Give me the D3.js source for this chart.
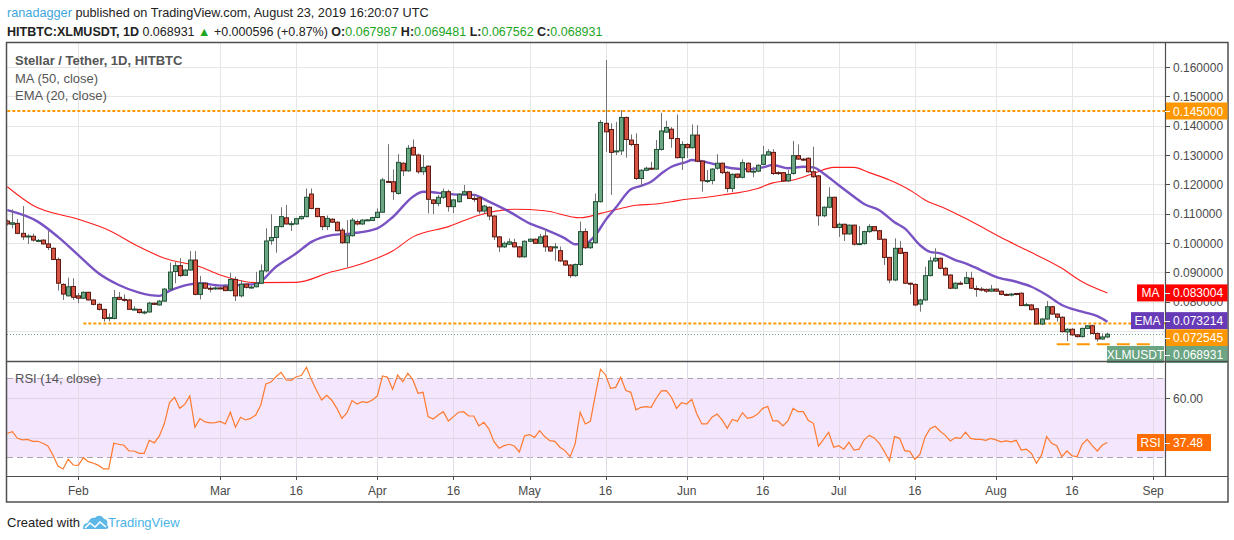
<!DOCTYPE html>
<html>
<head>
<meta charset="utf-8">
<script src="https://cdn.jsdelivr.net/npm/d3@7"></script>
<style>
  body { margin: 0; background: #fff; }
  svg { display: block; font-family: "Liberation Sans", Arial, sans-serif; }
</style>
</head>
<body>
<div id="chart"></div>
<script>
// HITBTC:XLMUSDT daily candles, first one is 2019-01-18
const startDay = "2019-01-18";

const opens = [
  0.1075,0.1064,0.1067,0.1033,0.1021,0.1023,0.1007,0.1010,0.0997,0.0982,
  0.0944,0.0859,0.0820,0.0852,0.0820,0.0812,0.0832,0.0806,0.0791,0.0774,
  0.0744,0.0743,0.0815,0.0808,0.0806,0.0774,0.0774,0.0764,0.0765,0.0795,
  0.0789,0.0802,0.0843,0.0903,0.0923,0.0890,0.0908,0.0942,0.0825,0.0863,
  0.0846,0.0845,0.0847,0.0851,0.0838,0.0876,0.0820,0.0860,0.0849,0.0851,
  0.0863,0.0905,0.1008,0.1019,0.1056,0.1086,0.1065,0.1065,0.1083,0.1090,
  0.1167,0.1118,0.1090,0.1056,0.1081,0.1071,0.1044,0.1001,0.1025,0.1073,
  0.1065,0.1078,0.1077,0.1087,0.1105,0.1210,0.1209,0.1169,0.1272,0.1246,
  0.1326,0.1300,0.1243,0.1262,0.1147,0.1135,0.1156,0.1175,0.1124,0.1141,
  0.1166,0.1175,0.1152,0.1154,0.1109,0.1122,0.1092,0.1021,0.0987,0.0996,
  0.1001,0.0987,0.0953,0.1006,0.1013,0.0999,0.1024,0.0987,0.0985,0.0974,
  0.0939,0.0925,0.0889,0.0927,0.1039,0.0984,0.1001,0.1141,0.1408,0.1387,
  0.1311,0.1314,0.1428,0.1351,0.1336,0.1220,0.1248,0.1255,0.1252,0.1319,
  0.1378,0.1388,0.1356,0.1291,0.1336,0.1325,0.1368,0.1279,0.1212,0.1213,
  0.1255,0.1272,0.1241,0.1186,0.1235,0.1224,0.1272,0.1243,0.1245,0.1268,
  0.1300,0.1309,0.1240,0.1240,0.1212,0.1237,0.1298,0.1286,0.1289,0.1243,
  0.1229,0.1093,0.1122,0.1156,0.1053,0.1064,0.1031,0.1061,0.0996,0.0998,
  0.1039,0.1056,0.1042,0.1013,0.0951,0.0874,0.0982,0.0968,0.0863,0.0859,
  0.0792,0.0806,0.0889,0.0939,0.0948,0.0914,0.0891,0.0846,0.0863,0.0862,
  0.0880,0.0845,0.0843,0.0842,0.0836,0.0843,0.0836,0.0825,0.0824,0.0828,
  0.0829,0.0788,0.0789,0.0776,0.0724,0.0741,0.0783,0.0758,0.0747,0.0697,
  0.0706,0.0687,0.0681,0.0709,0.0718,0.0692,0.0673,0.067987
];
const highs = [
  0.1080,0.1115,0.1082,0.1126,0.1030,0.1032,0.1014,0.1012,0.1041,0.0985,
  0.0951,0.0863,0.0882,0.0880,0.0830,0.0835,0.0834,0.0808,0.0795,0.0776,
  0.0760,0.0840,0.0833,0.0825,0.0810,0.0785,0.0776,0.0770,0.0800,0.0797,
  0.0806,0.0846,0.0933,0.0936,0.0948,0.0912,0.0973,0.0973,0.0888,0.0866,
  0.0853,0.0852,0.0850,0.0858,0.0899,0.0885,0.0874,0.0863,0.0856,0.0902,
  0.0927,0.1050,0.1098,0.1058,0.1122,0.1130,0.1075,0.1086,0.1094,0.1186,
  0.1186,0.1120,0.1092,0.1094,0.1085,0.1073,0.1051,0.1078,0.1085,0.1080,
  0.1082,0.1082,0.1090,0.1118,0.1222,0.1337,0.1251,0.1303,0.1275,0.1334,
  0.1353,0.1305,0.1300,0.1264,0.1150,0.1164,0.1186,0.1182,0.1150,0.1170,
  0.1198,0.1178,0.1165,0.1160,0.1130,0.1125,0.1095,0.1024,0.1005,0.1016,
  0.1015,0.0990,0.1009,0.1016,0.1016,0.1031,0.1048,0.0990,0.1000,0.0988,
  0.0942,0.0928,0.0930,0.1073,0.1050,0.1005,0.1169,0.1419,0.1624,0.1408,
  0.1413,0.1453,0.1431,0.1370,0.1374,0.1252,0.1260,0.1277,0.1351,0.1444,
  0.1417,0.1395,0.1438,0.1347,0.1340,0.1404,0.1402,0.1282,0.1249,0.1255,
  0.1303,0.1275,0.1245,0.1238,0.1237,0.1285,0.1275,0.1260,0.1268,0.1331,
  0.1320,0.1320,0.1245,0.1242,0.1249,0.1348,0.1336,0.1290,0.1292,0.1328,
  0.1232,0.1125,0.1190,0.1158,0.1070,0.1066,0.1063,0.1063,0.1058,0.1042,
  0.1064,0.1058,0.1045,0.1015,0.0953,0.1016,0.1007,0.0970,0.0865,0.0862,
  0.0810,0.0919,0.0953,0.0982,0.0950,0.0918,0.0893,0.0866,0.0870,0.0902,
  0.0902,0.0855,0.0850,0.0845,0.0857,0.0845,0.0838,0.0828,0.0830,0.0830,
  0.0832,0.0796,0.0792,0.0778,0.0745,0.0802,0.0786,0.0760,0.0750,0.0710,
  0.0710,0.0690,0.0712,0.0720,0.0722,0.0695,0.0692,0.069481
];
const lows = [
  0.1060,0.1050,0.1030,0.1010,0.0997,0.1005,0.1003,0.0995,0.0976,0.0942,
  0.0838,0.0806,0.0818,0.0806,0.0795,0.0810,0.0804,0.0788,0.0770,0.0732,
  0.0733,0.0740,0.0805,0.0800,0.0772,0.0770,0.0760,0.0757,0.0763,0.0789,
  0.0787,0.0800,0.0840,0.0863,0.0885,0.0888,0.0905,0.0822,0.0808,0.0844,
  0.0832,0.0840,0.0843,0.0836,0.0835,0.0802,0.0815,0.0845,0.0845,0.0849,
  0.0860,0.0900,0.0994,0.0967,0.1053,0.1063,0.1041,0.1062,0.1080,0.1088,
  0.1115,0.1088,0.1044,0.1044,0.1068,0.1040,0.0997,0.0917,0.1022,0.1060,
  0.1062,0.1076,0.1075,0.1085,0.1103,0.1205,0.1147,0.1165,0.1228,0.1243,
  0.1298,0.1236,0.1232,0.1101,0.1099,0.1125,0.1150,0.1107,0.1102,0.1138,
  0.1163,0.1150,0.1140,0.1100,0.1100,0.1078,0.1010,0.0969,0.0983,0.0993,
  0.0985,0.0950,0.0950,0.1003,0.0997,0.0997,0.0970,0.0970,0.0940,0.0935,
  0.0922,0.0881,0.0885,0.0922,0.0980,0.0980,0.0998,0.1138,0.1311,0.1164,
  0.1300,0.1300,0.1291,0.1330,0.1215,0.1192,0.1245,0.1250,0.1250,0.1315,
  0.1375,0.1325,0.1288,0.1249,0.1290,0.1322,0.1275,0.1175,0.1205,0.1200,
  0.1250,0.1235,0.1173,0.1173,0.1220,0.1220,0.1240,0.1224,0.1242,0.1265,
  0.1298,0.1232,0.1232,0.1208,0.1208,0.1233,0.1283,0.1280,0.1240,0.1222,
  0.1059,0.1088,0.1118,0.1050,0.1021,0.1007,0.1028,0.0991,0.0993,0.0995,
  0.1035,0.1040,0.1010,0.0925,0.0863,0.0870,0.0962,0.0860,0.0825,0.0785,
  0.0766,0.0803,0.0886,0.0935,0.0910,0.0888,0.0843,0.0843,0.0858,0.0860,
  0.0843,0.0817,0.0835,0.0830,0.0833,0.0833,0.0822,0.0820,0.0818,0.0822,
  0.0785,0.0785,0.0770,0.0722,0.0720,0.0738,0.0755,0.0732,0.0695,0.0666,
  0.0683,0.0678,0.0678,0.0706,0.0690,0.0664,0.0670,0.067562
];
const closes = [
  0.1065,0.1069,0.1033,0.1021,0.1024,0.1010,0.1009,0.0997,0.0985,0.0944,
  0.0863,0.0826,0.0851,0.0815,0.0812,0.0832,0.0806,0.0791,0.0774,0.0743,
  0.0746,0.0814,0.0808,0.0806,0.0774,0.0775,0.0763,0.0765,0.0795,0.0791,
  0.0802,0.0843,0.0901,0.0923,0.0889,0.0908,0.0942,0.0825,0.0863,0.0846,
  0.0845,0.0847,0.0846,0.0838,0.0876,0.0820,0.0860,0.0849,0.0850,0.0863,
  0.0905,0.1007,0.1019,0.1056,0.1090,0.1065,0.1066,0.1083,0.1090,0.1156,
  0.1118,0.1090,0.1056,0.1084,0.1071,0.1042,0.1001,0.1025,0.1078,0.1065,
  0.1078,0.1079,0.1087,0.1105,0.1215,0.1209,0.1175,0.1275,0.1246,0.1323,
  0.1300,0.1243,0.1258,0.1149,0.1135,0.1156,0.1175,0.1124,0.1147,0.1166,
  0.1175,0.1152,0.1150,0.1109,0.1126,0.1092,0.1021,0.0987,0.0999,0.1004,
  0.0987,0.0953,0.1006,0.1013,0.0999,0.1021,0.0987,0.0973,0.0987,0.0939,
  0.0925,0.0889,0.0927,0.1039,0.0984,0.1001,0.1141,0.1411,0.1379,0.1309,
  0.1314,0.1428,0.1353,0.1336,0.1220,0.1248,0.1255,0.1253,0.1319,0.1382,
  0.1394,0.1356,0.1291,0.1336,0.1325,0.1368,0.1279,0.1212,0.1213,0.1252,
  0.1272,0.1240,0.1186,0.1234,0.1224,0.1274,0.1243,0.1245,0.1265,0.1300,
  0.1311,0.1237,0.1237,0.1212,0.1234,0.1298,0.1286,0.1285,0.1243,0.1226,
  0.1093,0.1122,0.1156,0.1053,0.1064,0.1031,0.1061,0.0996,0.0998,0.1039,
  0.1056,0.1042,0.1013,0.0951,0.0874,0.0982,0.0965,0.0863,0.0862,0.0789,
  0.0806,0.0889,0.0939,0.0948,0.0914,0.0891,0.0846,0.0863,0.0862,0.0882,
  0.0846,0.0843,0.0842,0.0836,0.0843,0.0836,0.0825,0.0824,0.0826,0.0825,
  0.0787,0.0790,0.0773,0.0724,0.0741,0.0783,0.0758,0.0747,0.0698,0.0706,
  0.0687,0.0681,0.0709,0.0718,0.0692,0.0673,0.0680,0.068931
];

// RSI(14) read per day
const rsiValues = [
  42.2,43.0,39.6,38.8,39.1,38.1,38.1,37.1,35.7,31.2,
  25.6,24.1,29.0,26.1,25.9,29.8,27.8,27.0,25.9,24.1,
  24.1,37.1,36.6,36.1,33.2,33.2,32.0,32.0,38.6,37.3,
  40.8,47.2,57.7,60.4,54.8,56.8,61.1,45.2,49.6,47.9,
  47.4,47.6,48.2,46.9,52.8,45.2,50.3,48.9,49.7,51.4,
  56.5,67.1,68.1,70.8,73.0,69.2,69.0,70.8,71.4,75.6,
  69.2,63.8,59.0,61.4,58.9,54.8,49.7,52.6,58.7,57.0,
  58.2,57.7,59.0,61.1,71.2,70.5,64.4,71.7,68.3,72.5,
  69.2,62.4,62.9,50.6,49.4,51.4,53.1,48.4,50.6,52.8,
  53.1,50.9,50.9,45.9,47.7,44.3,37.9,34.6,35.9,36.6,
  35.7,32.7,40.8,41.5,40.1,43.5,40.5,38.4,38.1,35.1,
  33.4,30.3,36.8,52.8,46.9,48.2,61.6,74.6,71.7,64.9,
  65.4,70.5,63.8,62.9,54.0,55.3,55.7,55.3,59.9,63.6,
  63.8,60.4,54.8,57.7,57.0,59.4,51.9,46.9,46.9,50.3,
  51.9,48.9,44.7,49.2,48.2,52.6,49.7,50.3,51.9,54.8,
  55.7,48.4,48.4,45.9,48.6,54.8,53.1,53.1,48.6,47.2,
  35.7,39.1,42.7,35.1,35.9,34.1,37.6,33.7,34.1,38.8,
  41.1,39.8,37.1,32.9,28.1,40.5,39.6,33.4,33.0,29.0,
  31.4,40.1,44.5,45.7,43.2,41.1,38.3,40.0,39.6,42.7,
  39.6,39.1,39.1,38.6,39.6,38.8,37.8,38.3,37.8,38.6,
  33.7,34.1,32.0,27.0,31.2,40.5,37.1,35.9,30.3,33.2,
  30.8,30.3,36.6,39.1,35.9,33.2,36.2,37.48
];

// MA(50) and EMA(20) (day number counted from startDay, 0 = first candle)
const maDays = [0,5,14,20,26,31,38,42,49,57,64,68,72,76,80,87,93,100,106,113,117,121,124,128,131,134,138,141,144,148,151,155,159,163,167,170,174,178,181,185,190,197,201,208,212,217];
const maValues = [0.1192,0.1129,0.1081,0.1044,0.0987,0.0948,0.0919,0.0891,0.0865,0.0866,0.0902,0.0919,0.0942,0.0973,0.1021,0.1056,0.1095,0.1115,0.1110,0.1086,0.1101,0.1118,0.1129,0.1133,0.1141,0.1149,0.1156,0.1164,0.1171,0.1186,0.1205,0.1215,0.1237,0.1258,0.1258,0.1240,0.1215,0.1181,0.1147,0.1118,0.1075,0.1010,0.0976,0.0914,0.0868,0.0830];
const emaDays = [0,6,10,14,18,22,26,30,32,36,38,42,49,53,57,60,64,68,73,76,80,82,88,92,95,99,103,106,110,112,114,116,118,120,123,125,127,129,131,134,135,138,141,143,146,149,151,154,157,159,161,164,167,169,172,175,177,180,182,184,187,189,192,195,199,202,205,208,212,215,217];
const emaValues = [0.1112,0.1073,0.1021,0.0959,0.0897,0.0857,0.0831,0.0820,0.0837,0.0859,0.0863,0.0855,0.0860,0.0919,0.0965,0.1004,0.1027,0.1033,0.1050,0.1088,0.1158,0.1175,0.1166,0.1164,0.1141,0.1107,0.1067,0.1047,0.1016,0.0996,0.0998,0.1027,0.1078,0.1120,0.1183,0.1195,0.1209,0.1237,0.1260,0.1277,0.1283,0.1275,0.1262,0.1255,0.1252,0.1258,0.1266,0.1255,0.1260,0.1258,0.1237,0.1197,0.1158,0.1133,0.1112,0.1071,0.1050,0.0993,0.0970,0.0965,0.0942,0.0931,0.0908,0.0885,0.0868,0.0851,0.0823,0.0789,0.0766,0.0751,0.0732];

// horizontal lines drawn by the author
const levelPrices = [0.145, 0.072545];
const levelStarts = ["2019-01-18", "2019-02-02"];
const supportPrice = 0.0655;
const supportRange = ["2019-08-13", "2019-09-01"];

const priceTicks = [0.07,0.08,0.09,0.10,0.11,0.12,0.13,0.14,0.15,0.16];
const tickDates = ["2019-02-01","2019-03-01","2019-03-16","2019-04-01","2019-04-16","2019-05-01","2019-05-16","2019-06-01","2019-06-16","2019-07-01","2019-07-16","2019-08-01","2019-08-16","2019-09-01"];
const tickLabels = ["Feb","Mar","16","Apr","16","May","16","Jun","16","Jul","16","Aug","16","Sep"];

const lastMA = 0.083004, lastEMA = 0.073214, lastClose = 0.068931, lastRSI = 37.48;

// ---------------------------------------------------------------
const W = 1234, H = 540;
const chartL = 7, chartR = 1165, chartT = 43, paneSplit = 361.5, chartB = 476, frameR = 1228, frameB = 502;

const parse = d3.utcParse("%Y-%m-%d");
const start = parse(startDay);
const candles = opens.map((o, i) => ({
  date: d3.utcDay.offset(start, i), open: o, high: highs[i], low: lows[i], close: closes[i]
}));

const x = d3.scaleUtc()
  .domain([start, parse("2019-09-01")])
  .range([7.3, 1153.1]);
const y = d3.scaleLinear().domain([0.06, 0.16]).range([360.4, 67]);
const ry = d3.scaleLinear().domain([30, 70]).range([457.3, 378.3]);

const svg = d3.select("#chart").append("svg")
  .attr("width", W).attr("height", H);
svg.append("rect").attr("width", W).attr("height", H).attr("fill", "#fff");

const defs = svg.append("defs");
defs.append("clipPath").attr("id", "mainClip").append("rect")
  .attr("x", chartL).attr("y", chartT).attr("width", chartR - chartL).attr("height", paneSplit - chartT);
defs.append("clipPath").attr("id", "rsiClip").append("rect")
  .attr("x", chartL).attr("y", paneSplit).attr("width", chartR - chartL).attr("height", chartB - paneSplit);

const crisp = v => Math.round(v) + 0.5;

//grid
const grid = svg.append("g");
grid.selectAll(".vg").data(tickDates).enter().append("line")
  .attr("x1", d => crisp(x(parse(d)))).attr("x2", d => crisp(x(parse(d))))
  .attr("y1", chartT).attr("y2", chartB)
  .attr("stroke", "#e6e6e6");
grid.selectAll(".hg").data(priceTicks).enter().append("line")
  .attr("x1", chartL).attr("x2", chartR)
  .attr("y1", d => crisp(y(d))).attr("y2", d => crisp(y(d)))
  .attr("stroke", "#e6e6e6");

//main pane
const main = svg.append("g").attr("clip-path", "url(#mainClip)");

main.selectAll(".lvl").data(levelPrices).enter().append("line")
  .attr("x1", (d, i) => x(parse(levelStarts[i]))).attr("x2", chartR)
  .attr("y1", d => y(d)).attr("y2", d => y(d))
  .attr("stroke", "#ff9800").attr("stroke-width", 2)
  .attr("stroke-dasharray", "3,2");

main.append("line")
  .attr("x1", x(parse(supportRange[0]))).attr("x2", x(parse(supportRange[1])))
  .attr("y1", y(supportPrice)).attr("y2", y(supportPrice))
  .attr("stroke", "#ff9800").attr("stroke-width", 2)
  .attr("stroke-dasharray", "13,7");

main.append("line")
  .attr("x1", chartL).attr("x2", chartR)
  .attr("y1", crisp(y(lastClose))).attr("y2", crisp(y(lastClose)))
  .attr("stroke", "#6ba583").attr("stroke-dasharray", "1,2");

const maLine = d3.line()
  .x(d => x(d3.utcDay.offset(start, d[0])))
  .y(d => y(d[1]))
  .curve(d3.curveMonotoneX);

main.append("path")
  .datum(maDays.map((d, i) => [d, maValues[i]]))
  .attr("d", maLine)
  .attr("fill", "none").attr("stroke", "#ff1f1f").attr("stroke-width", 1.1);

main.append("path")
  .datum(emaDays.map((d, i) => [d, emaValues[i]]))
  .attr("d", maLine)
  .attr("fill", "none").attr("stroke", "#6a3fbd").attr("stroke-width", 2.4)
  .attr("stroke-opacity", 0.9);

// wicks then bodies
main.selectAll(".wick").data(candles).enter().append("line")
  .attr("x1", d => crisp(x(d.date))).attr("x2", d => crisp(x(d.date)))
  .attr("y1", d => y(d.high)).attr("y2", d => y(d.low))
  .attr("stroke", "#737375");

main.selectAll(".body").data(candles).enter().append("rect")
  .attr("x", d => Math.round(x(d.date)) - 1.5)
  .attr("width", 4)
  .attr("y", d => y(Math.max(d.open, d.close)))
  .attr("height", d => Math.max(1, Math.abs(y(d.open) - y(d.close))))
  .attr("fill", d => d.close >= d.open ? "#6ba583" : "#d75442")
  .attr("stroke", d => d.close >= d.open ? "#225437" : "#5b1a13")
  .attr("stroke-width", 1);

//rsi pane
const rsi = svg.append("g").attr("clip-path", "url(#rsiClip)");
rsi.append("rect")
  .attr("x", chartL).attr("width", chartR - chartL)
  .attr("y", ry(70)).attr("height", ry(30) - ry(70))
  .attr("fill", "#f3e6fd");
rsi.selectAll(".rg").data([60, 40]).enter().append("line")
  .attr("x1", chartL).attr("x2", chartR)
  .attr("y1", d => crisp(ry(d))).attr("y2", d => crisp(ry(d)))
  .attr("stroke", "#ddd3e6");
rsi.selectAll(".rb").data([70, 30]).enter().append("line")
  .attr("x1", chartL).attr("x2", chartR)
  .attr("y1", d => crisp(ry(d))).attr("y2", d => crisp(ry(d)))
  .attr("stroke", "#a9a4ad").attr("stroke-dasharray", "6,4");
rsi.selectAll(".rv").data(tickDates).enter().append("line")
  .attr("x1", d => crisp(x(parse(d)))).attr("x2", d => crisp(x(parse(d))))
  .attr("y1", paneSplit).attr("y2", chartB)
  .attr("stroke", "#e0dbe6");
rsi.append("path")
  .datum(rsiValues)
  .attr("d", d3.line().x((d, i) => x(d3.utcDay.offset(start, i))).y(d => ry(d)))
  .attr("fill", "none").attr("stroke", "#ff7a2e").attr("stroke-width", 1.2);

//frame and separators
const ink = "#4f4f4f";
svg.append("rect")
  .attr("x", 6.5).attr("y", chartT - 0.5).attr("width", frameR - 6.5).attr("height", frameB - chartT + 0.5)
  .attr("fill", "none").attr("stroke", ink).attr("stroke-width", 1.5);
svg.append("line").attr("x1", 6.5).attr("x2", frameR).attr("y1", chartB + 0.5).attr("y2", chartB + 0.5)
  .attr("stroke", ink).attr("stroke-width", 1.2);
svg.append("line").attr("x1", chartR + 0.5).attr("x2", chartR + 0.5).attr("y1", chartT).attr("y2", chartB)
  .attr("stroke", ink).attr("stroke-width", 1.2);

//time axis
const tAxis = svg.append("g");
tAxis.selectAll(".tt").data(tickDates).enter().append("line")
  .attr("x1", d => crisp(x(parse(d)))).attr("x2", d => crisp(x(parse(d))))
  .attr("y1", chartB).attr("y2", chartB + 4)
  .attr("stroke", ink);
tAxis.selectAll(".tl").data(tickDates).enter().append("text")
  .attr("x", d => x(parse(d))).attr("y", 495)
  .attr("text-anchor", "middle")
  .attr("font-size", "12px").attr("fill", "#4a4a4a")
  .text((d, i) => tickLabels[i]);

//price axis
const fmt = d3.format(".6f");
const pAxis = svg.append("g");
pAxis.selectAll(".pt").data(priceTicks.filter(d => d >= 0.08)).enter().append("line")
  .attr("x1", chartR).attr("x2", chartR + 5)
  .attr("y1", d => crisp(y(d))).attr("y2", d => crisp(y(d)))
  .attr("stroke", ink);
pAxis.selectAll(".pl").data(priceTicks.filter(d => d >= 0.08)).enter().append("text")
  .attr("x", 1173).attr("y", d => y(d) + 4.5)
  .attr("font-size", "12px").attr("fill", "#4a4a4a")
  .text(d => fmt(d));
pAxis.append("line")
  .attr("x1", chartR).attr("x2", chartR + 5)
  .attr("y1", crisp(ry(60))).attr("y2", crisp(ry(60)))
  .attr("stroke", ink);
pAxis.append("text")
  .attr("x", 1173).attr("y", ry(60) + 4.5)
  .attr("font-size", "12px").attr("fill", "#4a4a4a")
  .text("60.00");

// value tags on the right edge
function tag(name, label, color, cy, nameWidth, valueWidth) {
  const g = svg.append("g");
  if (name) {
    g.append("rect").attr("x", chartR - nameWidth - 1).attr("y", cy - 8.5)
      .attr("width", nameWidth).attr("height", 17).attr("fill", color);
    g.append("text").attr("x", chartR - 1 - nameWidth / 2).attr("y", cy + 4.5)
      .attr("text-anchor", "middle").attr("font-size", "12px").attr("fill", "#fff")
      .text(name);
  }
  g.append("rect").attr("x", chartR + 1).attr("y", cy - 8.5)
    .attr("width", valueWidth || (frameR - chartR - 1.5)).attr("height", 17).attr("fill", color);
  g.append("line").attr("x1", chartR).attr("x2", chartR + 5).attr("y1", crisp(cy)).attr("y2", crisp(cy))
    .attr("stroke", "#fff");
  g.append("text").attr("x", 1173).attr("y", cy + 4.5)
    .attr("font-size", "12px").attr("fill", "#fff")
    .text(label);
}
tag(null, fmt(levelPrices[0]), "#ff9800", y(levelPrices[0]), 0);
tag("MA", fmt(lastMA), "#ff0000", y(lastMA), 27);
tag("EMA", fmt(lastEMA), "#673ab7", y(lastEMA) - 1, 33);
tag(null, fmt(levelPrices[1]), "#ff9800", 337.8, 0);
tag("XLMUSDT", fmt(lastClose), "#6ba583", 354.5, 57);
tag("RSI", lastRSI.toFixed(2), "#ff6d00", ry(lastRSI), 27, 45);

// pane separator drawn last so it sits over the bottom tag
svg.append("line").attr("x1", 6.5).attr("x2", frameR).attr("y1", paneSplit).attr("y2", paneSplit)
  .attr("stroke", ink).attr("stroke-width", 1.5);

//legends
const leg = svg.append("g").attr("font-size", "13px").attr("fill", "#555");
leg.append("text").attr("x", 15).attr("y", 64.5).attr("font-weight", "bold").text("Stellar / Tether, 1D, HITBTC");
leg.append("text").attr("x", 15).attr("y", 82.5).text("MA (50, close)");
leg.append("text").attr("x", 15).attr("y", 99.5).text("EMA (20, close)");
leg.append("text").attr("x", 15).attr("y", 382.5).text("RSI (14, close)");

//header
const head1 = svg.append("text").attr("x", 7).attr("y", 16.5).attr("font-size", "12.7px").attr("fill", "#222");
head1.append("tspan").attr("fill", "#3ea6dc").text("ranadagger");
head1.append("tspan").text(" published on TradingView.com, August 23, 2019 16:20:07 UTC");

const green = "#1ea51e";
const head2 = svg.append("text").attr("x", 7).attr("y", 35.5).attr("font-size", "12.5px").attr("fill", "#222");
head2.append("tspan").attr("font-weight", "bold").text("HITBTC:XLMUSDT, 1D");
head2.append("tspan").text(" 0.068931 ");
head2.append("tspan").attr("fill", green).text("▲");
head2.append("tspan").text(" +0.000596 (+0.87%) ");
[["O:", "0.067987"], ["H:", "0.069481"], ["L:", "0.067562"], ["C:", "0.068931"]].forEach((p, i) => {
  head2.append("tspan").attr("font-weight", "bold").text((i ? " " : "") + p[0]);
  head2.append("tspan").attr("fill", green).text(p[1]);
});

//footer
svg.append("text").attr("x", 7).attr("y", 527).attr("font-size", "13px").attr("fill", "#222").text("Created with");
const logo = svg.append("g").attr("transform", "translate(83,514)");
logo.append("path")
  .attr("d", "M0 15 C0 11 2 9 5 9 C6 5 9 3 12 4 C14 1 19 1 21 5 C24 5 25 8 24 11 C26 12 26 15 23 15 Z")
  .attr("fill", "#5db8e8");
logo.append("polyline")
  .attr("points", "2,14 7,9 12,13 17,8 23,13")
  .attr("fill", "none").attr("stroke", "#fff").attr("stroke-width", 1.6);
svg.append("text").attr("x", 108).attr("y", 527).attr("font-size", "13px").attr("fill", "#4bb3e6").text("TradingView");
</script>
</body>
</html>
